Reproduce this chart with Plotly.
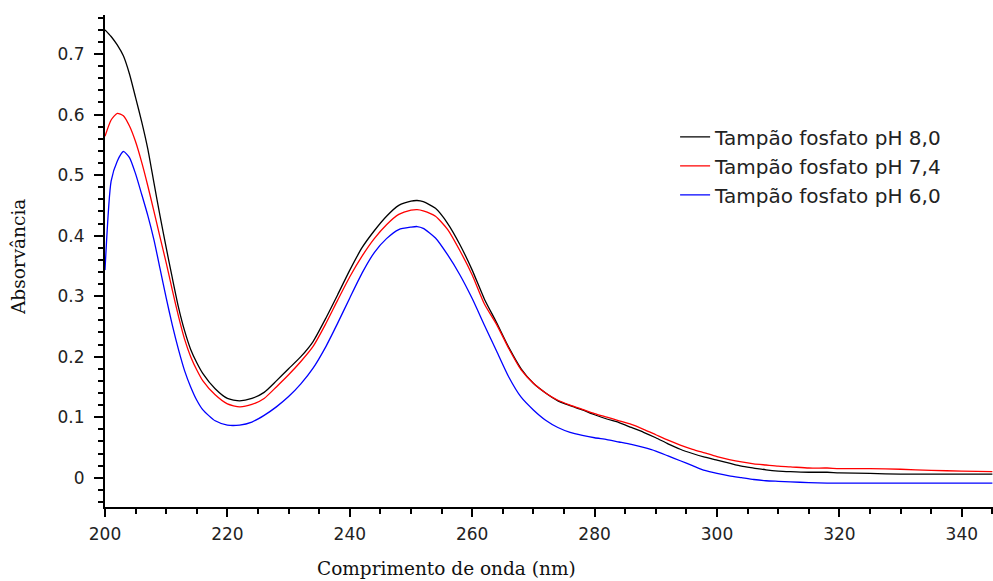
import plotly.graph_objects as go

# Wavelength grid (nm)
wavelength = [200, 201, 202, 203, 204, 205, 206, 207, 208, 209, 210, 211, 212, 213, 214, 215, 216,
              218, 220, 222, 224, 226, 228, 230, 232, 234, 236, 238, 240, 242, 244, 246, 248, 250,
              251, 252, 254, 256, 258, 260, 262, 264, 266, 268, 270, 272, 274, 276, 278, 280, 282,
              284, 286, 288, 290, 292, 294, 296, 298, 300, 302, 304, 306, 308, 310, 312, 315, 318,
              320, 325, 330, 335, 340, 345]

ph80 = [0.740, 0.729, 0.715, 0.697, 0.667, 0.628, 0.588, 0.543, 0.487, 0.432, 0.380, 0.330, 0.282,
        0.243, 0.212, 0.190, 0.172, 0.147, 0.131, 0.127, 0.131, 0.141, 0.160, 0.180, 0.200, 0.225,
        0.262, 0.302, 0.343, 0.380, 0.408, 0.432, 0.450, 0.457, 0.458, 0.456, 0.445, 0.420, 0.385,
        0.343, 0.295, 0.256, 0.215, 0.180, 0.156, 0.140, 0.127, 0.119, 0.112, 0.104, 0.097, 0.091,
        0.083, 0.075, 0.066, 0.056, 0.047, 0.040, 0.034, 0.029, 0.024, 0.019, 0.016, 0.013, 0.011,
        0.010, 0.009, 0.009, 0.008, 0.007, 0.006, 0.006, 0.006, 0.006]

ph74 = [0.564, 0.591, 0.602, 0.598, 0.581, 0.555, 0.521, 0.482, 0.440, 0.397, 0.355, 0.310, 0.267,
        0.229, 0.200, 0.178, 0.160, 0.137, 0.122, 0.117, 0.121, 0.131, 0.150, 0.170, 0.192, 0.217,
        0.253, 0.293, 0.332, 0.366, 0.395, 0.418, 0.435, 0.442, 0.443, 0.441, 0.432, 0.410, 0.375,
        0.335, 0.287, 0.253, 0.213, 0.178, 0.156, 0.140, 0.128, 0.120, 0.113, 0.106, 0.100, 0.094,
        0.088, 0.080, 0.071, 0.062, 0.054, 0.047, 0.041, 0.035, 0.030, 0.026, 0.023, 0.021, 0.019,
        0.018, 0.016, 0.016, 0.015, 0.015, 0.014, 0.012, 0.011, 0.010]

ph60 = [0.343, 0.490, 0.523, 0.539, 0.529, 0.502, 0.468, 0.433, 0.393, 0.345, 0.297, 0.252, 0.212,
        0.177, 0.150, 0.128, 0.112, 0.094, 0.087, 0.087, 0.092, 0.103, 0.117, 0.134, 0.155, 0.181,
        0.215, 0.255, 0.297, 0.338, 0.372, 0.395, 0.410, 0.414, 0.415, 0.412, 0.396, 0.368, 0.335,
        0.296, 0.252, 0.209, 0.166, 0.133, 0.112, 0.095, 0.083, 0.075, 0.070, 0.066, 0.063, 0.059,
        0.055, 0.050, 0.044, 0.036, 0.028, 0.020, 0.012, 0.007, 0.003, 0.000, -0.003, -0.005, -0.006,
        -0.007, -0.008, -0.009, -0.009, -0.009, -0.009, -0.009, -0.009, -0.009]

series_names = ["Tampão fosfato pH 8,0", "Tampão fosfato pH 7,4", "Tampão fosfato pH 6,0"]
series_values = [ph80, ph74, ph60]
series_colors = ["#000000", "#ff0000", "#0000ff"]

x_title = "Comprimento de onda (nm)"
y_title = "Absorvância"

fig = go.Figure()
for i, (name, vals, col) in enumerate(zip(series_names, series_values, series_colors)):
    fig.add_trace(go.Scatter(x=wavelength, y=vals, mode="lines", name=name,
                             line=dict(color=col, width=1.3, shape="spline", smoothing=0.6),
                             legendgroup=f"g{i}"))

tick_font = dict(family="DejaVu Sans", size=17, color="#222222")

fig.update_layout(
    width=993, height=581,
    margin=dict(l=105, r=0, t=15, b=74),
    paper_bgcolor="white", plot_bgcolor="white",
    showlegend=True,
    legend=dict(x=0.642, y=0.792, xanchor="left", yanchor="top",
                font=dict(family="DejaVu Sans", size=20, color="#222222"),
                bgcolor="rgba(0,0,0,0)", borderwidth=0, tracegroupgap=0,
                traceorder="grouped"),
    xaxis=dict(range=[200, 345.1], showgrid=False, zeroline=False,
               showline=True, linecolor="#000000", linewidth=2,
               ticks="outside", ticklen=8, tickwidth=2, tickcolor="#000000",
               tick0=200, dtick=20, tickfont=tick_font, ticklabelstandoff=3,
               minor=dict(ticks="outside", ticklen=5, tickwidth=1.5, tickcolor="#000000",
                          dtick=5, showgrid=False)),
    yaxis=dict(range=[-0.0484, 0.7645], showgrid=False, zeroline=False,
               showline=True, linecolor="#000000", linewidth=2,
               ticks="outside", ticklen=9, tickwidth=2, tickcolor="#000000",
               tick0=0, dtick=0.1, tickfont=tick_font, ticklabelstandoff=6,
               minor=dict(ticks="outside", ticklen=5, tickwidth=1.5, tickcolor="#000000",
                          dtick=0.02, showgrid=False)),
    annotations=[
        dict(text=x_title, xref="paper", yref="paper", x=0.385, y=-0.124,
             xanchor="center", yanchor="middle", showarrow=False,
             font=dict(family="DejaVu Serif", size=18.5, color="#111111")),
        dict(text=y_title, xref="paper", yref="paper", x=-0.098, y=0.508,
             xanchor="center", yanchor="middle", showarrow=False, textangle=-90,
             font=dict(family="DejaVu Serif", size=18.5, color="#111111")),
    ],
)

fig.write_html("out.html")
